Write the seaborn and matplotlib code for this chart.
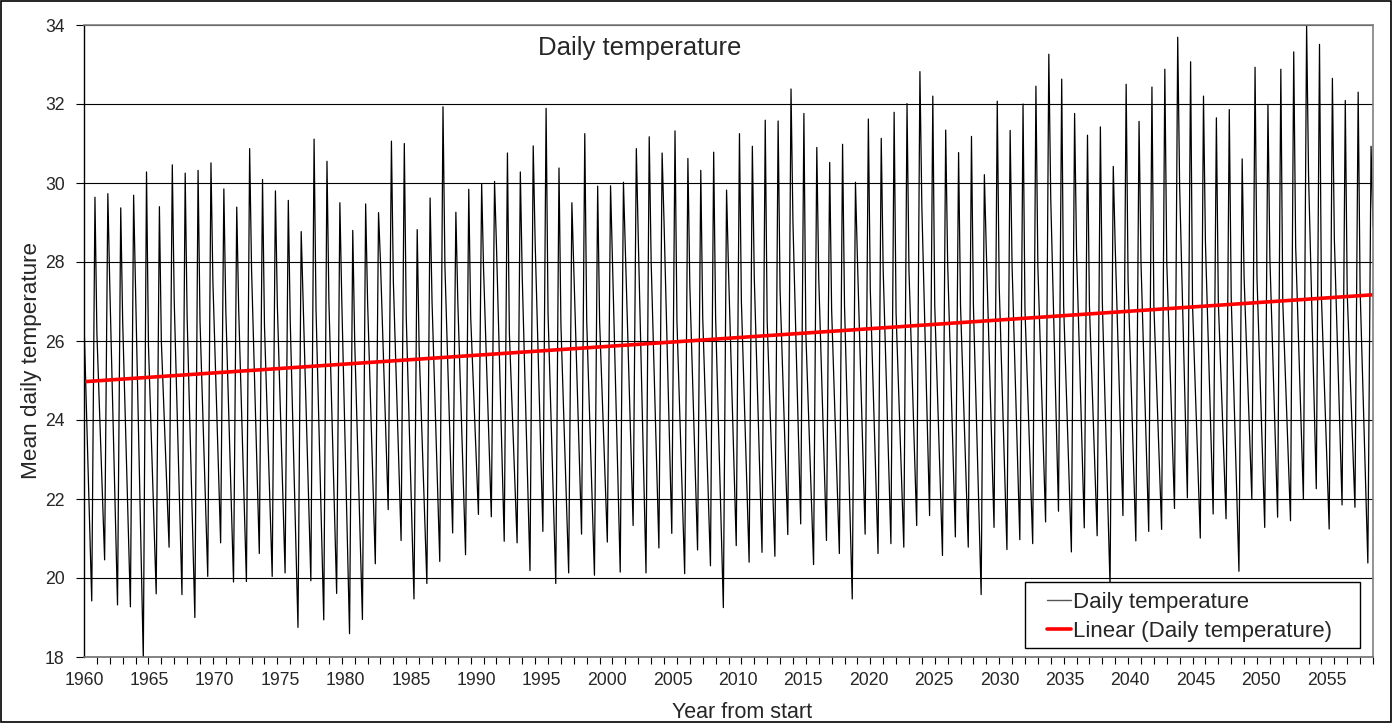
import numpy as np
import pandas as pd
import matplotlib
matplotlib.use("Agg")
import matplotlib.pyplot as plt
import seaborn as sns
from matplotlib.lines import Line2D
from matplotlib.patches import Rectangle
from matplotlib.ticker import FixedLocator

# ---- data -------------------------------------------------------------
start_year = 1960
n_years = 100          # model years of 360 days each
days_per_model_year = 360
start_temp = 26.5      # value on the first day of the record

# annual summer maxima
peak_temps = [
    29.64, 29.73, 29.37, 29.69, 30.28, 29.40, 30.46, 30.25, 30.32, 30.51, 29.85, 29.39, 30.87, 30.09, 29.80, 29.56,
    28.77, 31.11, 30.55, 29.50, 28.80, 29.47, 29.25, 31.06, 31.00, 28.82, 29.62, 31.93, 29.26, 29.84, 29.98, 30.04, 30.76,
    30.28, 30.94, 31.89, 30.38, 29.50, 31.25, 29.92, 29.93, 30.02, 30.87, 31.17, 30.76, 31.32, 30.62, 30.32, 30.78, 29.82,
    31.25, 30.93, 31.59, 31.57, 32.38, 31.76, 30.90, 30.52, 30.98, 30.02, 31.62, 31.13, 31.79, 32.01, 32.82, 32.20,
    31.34, 30.77, 31.18, 30.21, 32.07, 31.33, 32.00, 32.45, 33.26, 32.63, 31.76, 31.21, 31.42, 30.42, 32.50, 31.56, 32.43,
    32.88, 33.69, 33.07, 32.20, 31.65, 31.86, 30.61, 32.93, 31.99, 32.88, 33.32, 34.00, 33.51, 32.65, 32.09, 32.30, 30.93,
]

# annual winter minima
trough_temps = [
    19.42, 20.46, 19.32, 19.27, 17.95, 19.60, 20.78, 19.58, 19.00, 20.04, 20.89, 19.90, 19.91, 20.62, 20.04, 20.13, 18.75,
    19.93, 18.94, 19.61, 18.59, 18.95, 20.36, 21.73, 20.95, 19.47, 19.86, 20.42, 21.14, 20.59, 21.61, 21.55, 20.93,
    20.89, 20.19, 21.18, 19.86, 20.13, 21.11, 20.07, 20.91, 20.15, 21.33, 20.13, 20.76, 21.13, 20.11, 20.71, 20.31, 19.25,
    20.82, 20.40, 20.65, 20.55, 21.10, 21.37, 20.34, 20.95, 20.62, 19.47, 21.11, 20.62, 20.87, 20.78, 21.33, 21.58, 20.57,
    21.04, 20.78, 19.58, 21.28, 20.72, 20.97, 20.87, 21.42, 21.69, 20.66, 21.27, 21.07, 19.80, 21.58, 20.94, 21.18,
    21.23, 21.76, 22.03, 21.01, 21.62, 21.50, 20.17, 22.00, 21.28, 21.54, 21.45, 21.99, 22.26, 21.24, 21.85, 21.79, 20.38,
]

# level the series settles to after each summer maximum
shoulder_temps = [
    26.2, 27.4, 26.5, 27.3, 25.9, 26.0, 27.0, 26.6, 26.5, 27.5, 26.8, 26.8, 27.8, 26.4, 26.9, 26.5,
    27.0, 26.8, 27.0, 27.0, 26.0, 27.0, 28.0, 27.5, 26.6, 25.8, 27.0, 27.9, 27.0, 26.6, 27.8, 28.4, 26.2,
    27.6, 28.5, 26.7, 26.4, 27.8, 26.5, 26.5, 28.0, 28.3, 28.6, 28.0, 29.0, 26.5, 27.4, 26.6, 26.6, 27.8,
    27.0, 27.6, 26.5, 27.3, 29.0, 26.2, 27.6, 26.8, 26.9, 28.1, 27.3, 27.8, 26.7, 27.8, 29.4, 26.9,
    28.0, 26.9, 26.9, 28.3, 27.4, 27.9, 26.8, 27.9, 29.6, 26.9, 28.3, 26.9, 27.0, 28.4, 27.5, 28.0, 26.9,
    28.0, 29.9, 26.9, 28.5, 27.0, 27.1, 27.6, 27.6, 28.1, 27.0, 28.4, 30.2, 27.1, 28.6, 27.2, 27.3, 28.9,
]

# linear trend of the daily record (value at each end of the record)
trend_temps = [24.97, 27.17]

tick_years = list(range(1960, 2060, 5))

# ---- assemble the series in time order --------------------------------
def to_axis_year(day):
    """Day index of the record -> decimal 'year from start' on the axis."""
    return start_year + day / 365.25

rows = [(to_axis_year(0), start_temp)]
for k, (lo, hi, sh) in enumerate(zip(trough_temps, peak_temps, shoulder_temps)):
    base = k * days_per_model_year
    rows.append((to_axis_year(base + 0.60 * days_per_model_year), lo))
    rows.append((to_axis_year(base + 0.85 * days_per_model_year), hi))
    rows.append((to_axis_year(base + 1.00 * days_per_model_year), sh))
daily = pd.DataFrame(rows, columns=["year", "temp"])

last_day = n_years * days_per_model_year
trend = pd.DataFrame({"year": [to_axis_year(0), to_axis_year(last_day)],
                      "temp": trend_temps})

# ---- figure -----------------------------------------------------------
sns.set_theme(style="white")
plt.rcParams["font.family"] = ["Liberation Sans", "DejaVu Sans"]

W, H = 1393, 723
fig = plt.figure(figsize=(W / 100, H / 100), dpi=100)
ax = fig.add_axes([84 / W, 1 - 657 / H, (1373 - 84) / W, (657 - 25) / H])

sns.lineplot(data=daily, x="year", y="temp", ax=ax, color="black", linewidth=0.9,
             estimator=None, sort=False, legend=False)
sns.lineplot(data=trend, x="year", y="temp", ax=ax, color="#ff0000", linewidth=2.6,
             estimator=None, sort=False, legend=False)

ax.set_xlim(to_axis_year(0), to_axis_year(last_day))
ax.set_ylim(18, 34)
ax.set_yticks(np.arange(18, 35, 2))
ax.set_xticks(tick_years)
ax.set_xticklabels([str(v) for v in tick_years])
ax.xaxis.set_minor_locator(FixedLocator(
    [to_axis_year(k * days_per_model_year) for k in range(n_years + 1)]))

ax.grid(axis="y", color="black", linewidth=0.8)
ax.grid(axis="x", visible=False)
ax.set_axisbelow(True)

ax.tick_params(axis="x", which="minor", direction="out", length=5, width=0.8,
               color="black", bottom=True)
ax.tick_params(axis="x", which="major", length=0, labelsize=12.7, pad=11)
ax.tick_params(axis="y", which="major", direction="out", length=6, width=0.8,
               color="black", labelsize=12.7, pad=8, left=True)

for side in ["top", "right"]:
    ax.spines[side].set_color("#808080")
    ax.spines[side].set_linewidth(1.2)
ax.spines["bottom"].set_color("#707070")
ax.spines["bottom"].set_linewidth(1.2)
ax.spines["left"].set_color("black")
ax.spines["left"].set_linewidth(1.0)

ax.set_xlabel("Year from start", fontsize=15.5)
ax.set_ylabel("Mean daily temperature", fontsize=16.2)
ax.xaxis.set_label_coords((742 - 84) / 1289, (657 - 712) / 632)
ax.yaxis.set_label_coords((32 - 84) / 1289, (657 - 360) / 632)
ax.xaxis.label.set_va("center")
ax.yaxis.label.set_va("center")

fig.text(640 / W, 1 - 48 / H, "Daily temperature", ha="center", va="center",
         fontsize=18.5)

# legend: framed box with short line samples
fig.patches.append(Rectangle((1025 / W, 1 - 648 / H), (1360 - 1025) / W, (648 - 582) / H,
                             transform=fig.transFigure, facecolor="white",
                             edgecolor="black", linewidth=1.0, zorder=5))
handles = [
    Line2D([], [], color="#555555", linewidth=1.0),
    Line2D([], [], color="#ff0000", linewidth=2.6),
]
leg = fig.legend(handles, ["Daily temperature", "Linear (Daily temperature)"],
                 loc="center left", bbox_to_anchor=(1047 / W, 1 - 617 / H),
                 fontsize=16, frameon=False, handlelength=1.1,
                 handletextpad=0.05, borderpad=0.0, labelspacing=0.35,
                 borderaxespad=0)
leg.set_zorder(6)

fig.patches.append(Rectangle((0.0005, 0.001), 0.998, 0.997, transform=fig.transFigure,
                             fill=False, edgecolor="black", linewidth=1.2))

fig.savefig("out.png", dpi=100, facecolor="white")
